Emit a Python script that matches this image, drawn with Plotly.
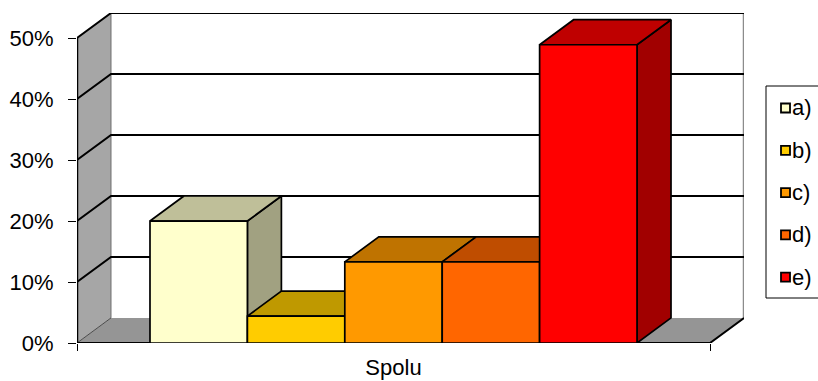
import plotly.graph_objects as go

# ---- data -------------------------------------------------------------
category = "Spolu"
series = ["a)", "b)", "c)", "d)", "e)"]
values = [20.0, 4.4, 13.3, 13.3, 48.9]          # percent
y_ticks = [0, 10, 20, 30, 40, 50]
y_tick_labels = ["0%", "10%", "20%", "30%", "40%", "50%"]

# ---- styles -------------------------------------------------------------
front_colors = ["#FFFFCC", "#FFCC00", "#FF9900", "#FF6600", "#FF0000"]
top_colors = ["#BFBF99", "#BF9900", "#BF7300", "#BF4D00", "#BF0000"]
side_colors = ["#A1A181", "#A18000", "#A16000", "#A14000", "#A10000"]
WALL_COLOR = "#A6A6A6"
FLOOR_COLOR = "#959595"
FONT = "Arial, 'Liberation Sans', sans-serif"

W, H = 818, 381
ML, MR, MT, MB = 77, 74, 13, 38
PW, PH = W - ML - MR, H - MT - MB

Y_MAX = 50          # top of the walls
DX = 0.0537         # depth offset along x (category units)
DY = 4.11           # depth offset along y (percent units)
GAP = 0.2306        # share of the category left empty around the bars

n = len(values)
bar_w = (1 - GAP) / n
bar_left = [-(1 - GAP) / 2 + i * bar_w for i in range(n)]
XL, XR = -0.5, 0.5


def poly(xs, ys, fill, line_color="black", width=1.7):
    return go.Scatter(
        x=list(xs) + [xs[0]], y=list(ys) + [ys[0]], mode="lines",
        fill="toself", fillcolor=fill,
        line=dict(color=line_color, width=width),
        hoverinfo="skip", showlegend=False, cliponaxis=False,
    )


def seg(xs, ys, color="black", width=2):
    return go.Scatter(
        x=xs, y=ys, mode="lines", line=dict(color=color, width=width),
        hoverinfo="skip", showlegend=False, cliponaxis=False,
    )


fig = go.Figure()

# walls and floor
fig.add_trace(poly([XL, XL + DX, XL + DX, XL], [0, DY, Y_MAX + DY, Y_MAX],
                   WALL_COLOR, "rgba(0,0,0,0)", 0))
fig.add_trace(poly([XL, XR, XR + DX, XL + DX], [0, 0, DY, DY],
                   FLOOR_COLOR, "rgba(0,0,0,0)", 0))
fig.add_trace(seg([XL + DX, XL + DX], [DY, Y_MAX + DY], "#6E6E6E", 1))
fig.add_trace(seg([XL, XL + DX], [0, DY], "#4A4A4A", 1))
fig.add_trace(seg([XR + DX, XR + DX], [DY, Y_MAX + DY], "#8C8C8C", 2.5))

# gridlines across the side wall and back wall
for v in y_ticks[1:-1]:
    fig.add_trace(seg([XL, XL + DX, XR + DX], [v, v + DY, v + DY], "black", 2))

# wall outlines
fig.add_trace(seg([XL, XL + DX, XR + DX], [Y_MAX, Y_MAX + DY, Y_MAX + DY], "black", 2))
fig.add_trace(seg([XL, XL], [0, Y_MAX], "black", 2.5))
fig.add_trace(seg([XL, XR, XR + DX], [0, 0, DY], "black", 2))

# 3-D bars, painted left to right
for i, v in enumerate(values):
    x0 = bar_left[i]
    x1 = x0 + bar_w
    fig.add_trace(poly([x1, x1 + DX, x1 + DX, x1], [0, DY, v + DY, v], side_colors[i]))
    fig.add_trace(poly([x0, x1, x1 + DX, x0 + DX], [v, v, v + DY, v + DY], top_colors[i]))
    fig.add_trace(poly([x0, x1, x1, x0], [0, 0, v, v], front_colors[i]))


# legend box with swatches
def px_x(p):
    return (p - ML) / PW


def px_y(p):
    return (H - MB - p) / PH


shapes = [dict(type="rect", xref="paper", yref="paper",
               x0=px_x(766), x1=px_x(840), y0=px_y(298), y1=px_y(86),
               line=dict(color="black", width=1), fillcolor="white")]
annotations = []
for i, name in enumerate(series):
    cy = 108 + i * 42.3
    shapes.append(dict(type="rect", xref="paper", yref="paper",
                       x0=px_x(781), x1=px_x(790), y0=px_y(cy + 4.5), y1=px_y(cy - 4.5),
                       line=dict(color="black", width=1.8), fillcolor=front_colors[i]))
    annotations.append(dict(text=name, xref="paper", yref="paper",
                            x=px_x(790), y=px_y(cy), xanchor="left", yanchor="middle",
                            showarrow=False, font=dict(family=FONT, size=22, color="black")))

fig.update_layout(
    width=W, height=H,
    margin=dict(l=ML, r=MR, t=MT, b=MB, autoexpand=False),
    paper_bgcolor="white", plot_bgcolor="white",
    showlegend=False,
    shapes=shapes, annotations=annotations,
    font=dict(family=FONT, size=22, color="black"),
    xaxis=dict(range=[XL, XR + DX], showgrid=False, zeroline=False, showline=False,
               tickmode="array", tickvals=[0], ticktext=[category], ticks="",
               ticklabelstandoff=9,
               minor=dict(tickmode="array", tickvals=[XL, XR], ticks="outside",
                          ticklen=7, tickcolor="black", tickwidth=1),
               fixedrange=True),
    yaxis=dict(range=[0, Y_MAX + DY], showgrid=False, zeroline=False, showline=False,
               tickmode="array", tickvals=y_ticks, ticktext=y_tick_labels,
               ticks="outside", ticklen=8, tickcolor="black", tickwidth=1,
               ticklabelstandoff=10, fixedrange=True),
)

fig.write_html("out.html")
